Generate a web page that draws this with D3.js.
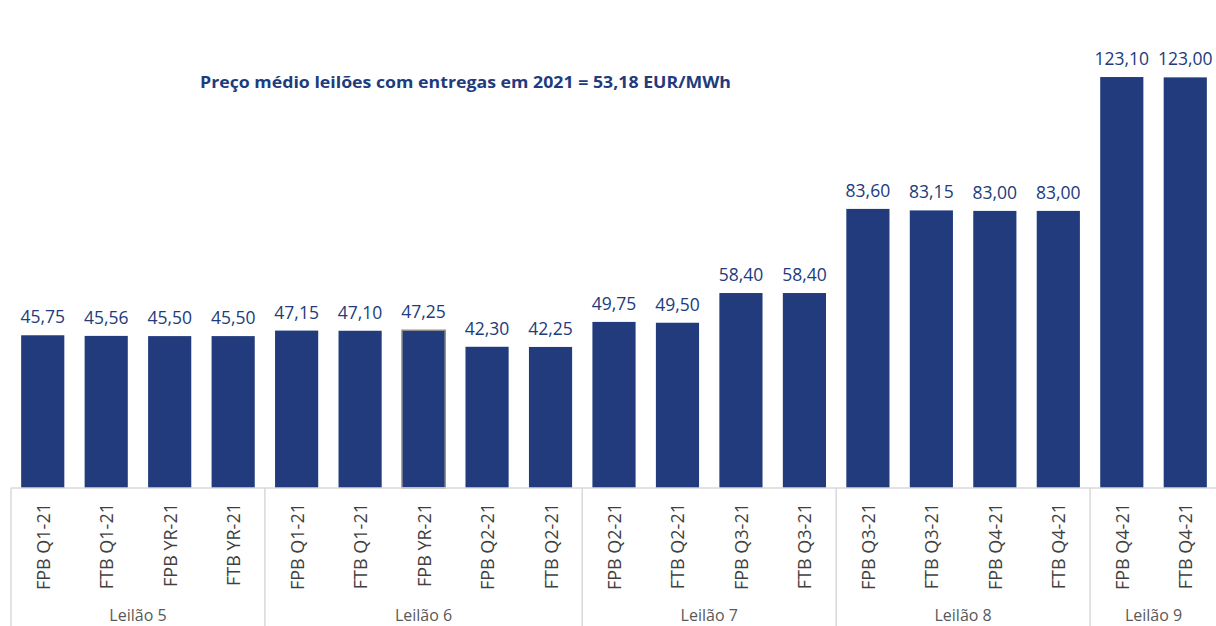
<!DOCTYPE html>
<html>
<head>
<meta charset="utf-8">
<script src="https://cdn.jsdelivr.net/npm/d3@7"></script>
<style>
  body { margin: 0; background: #fff; }
  text { font-family: "Open Sans", Lato, sans-serif; }
</style>
</head>
<body>
<div id="main"></div>
<script>
const ctx = {
    w: 1216,
    h: 626,
};

// chart data
const auctions = ["Leilão 5", "Leilão 6", "Leilão 7", "Leilão 8", "Leilão 9"];
const products = [
  ["FPB Q1-21", "FTB Q1-21", "FPB YR-21", "FTB YR-21"],
  ["FPB Q1-21", "FTB Q1-21", "FPB YR-21", "FPB Q2-21", "FTB Q2-21"],
  ["FPB Q2-21", "FTB Q2-21", "FPB Q3-21", "FTB Q3-21"],
  ["FPB Q3-21", "FTB Q3-21", "FPB Q4-21", "FTB Q4-21"],
  ["FPB Q4-21", "FTB Q4-21"]
];
const prices = [
  [45.75, 45.56, 45.50, 45.50],
  [47.15, 47.10, 47.25, 42.30, 42.25],
  [49.75, 49.50, 58.40, 58.40],
  [83.60, 83.15, 83.00, 83.00],
  [123.10, 123.00]
];
const title = "Preço médio leilões com entregas em 2021 = 53,18 EUR/MWh";

function createViz() {
    let svg = d3.select("#main").append("svg")
        .attr("width", ctx.w)
        .attr("height", ctx.h);

    // flatten into one row per bar
    let rows = [];
    auctions.forEach((a, gi) => {
        products[gi].forEach((p, i) => {
            rows.push({key: gi + "-" + i, group: gi, label: p, value: prices[gi][i]});
        });
    });

    const baseY = 488;
    let x = d3.scaleBand()
        .domain(rows.map(d => d.key))
        .range([11, 1217])
        .paddingInner(0.32).paddingOuter(0.16);
    let y = d3.scaleLinear().domain([0, 130]).range([baseY, 54]);

    let fmt = v => d3.format(".2f")(v).replace(".", ",");

    // bars
    svg.selectAll("rect.bar")
        .data(rows)
        .enter().append("rect")
        .attr("class", "bar")
        .attr("x", d => x(d.key))
        .attr("width", x.bandwidth())
        .attr("y", d => y(d.value))
        .attr("height", d => baseY - y(d.value))
        .attr("fill", "#213b7d")
        .attr("stroke", d => (d.group === 1 && d.label === "FPB YR-21") ? "#8c8c8c" : "none")
        .attr("stroke-width", 1.5);

    // value labels
    svg.selectAll("text.val")
        .data(rows)
        .enter().append("text")
        .attr("class", "val")
        .attr("x", d => x(d.key) + x.bandwidth() / 2)
        .attr("y", d => y(d.value) - 12)
        .attr("text-anchor", "middle")
        .attr("font-size", 17.5)
        .attr("fill", "#213b7d")
        .text(d => fmt(d.value));

    // axis line
    svg.append("line")
        .attr("x1", 11).attr("x2", ctx.w)
        .attr("y1", baseY).attr("y2", baseY)
        .attr("stroke", "#d9d9d9").attr("stroke-width", 1.5);

    // category labels, rotated
    svg.selectAll("text.cat")
        .data(rows)
        .enter().append("text")
        .attr("class", "cat")
        .attr("transform", d => `translate(${x(d.key) + x.bandwidth() / 2 + 7},503) rotate(-90)`)
        .attr("text-anchor", "end")
        .attr("font-size", 18)
        .attr("fill", "#404040")
        .text(d => d.label);

    // group separators and labels
    let step = x.step();
    let start = 11;
    auctions.forEach((a, gi) => {
        let n = products[gi].length;
        let end = start + n * step;
        svg.append("line")
            .attr("x1", start).attr("x2", start)
            .attr("y1", baseY).attr("y2", ctx.h)
            .attr("stroke", "#d9d9d9").attr("stroke-width", 1.5);
        svg.append("text")
            .attr("x", (start + end) / 2)
            .attr("y", 621)
            .attr("text-anchor", "middle")
            .attr("font-size", 16)
            .attr("fill", "#595959")
            .text(a);
        start = end;
    });

    // title note
    svg.append("text")
        .attr("x", 200)
        .attr("y", 88)
        .attr("font-size", 16)
        .attr("font-weight", "bold")
        .attr("fill", "#213b7d")
        .attr("textLength", 531)
        .attr("lengthAdjust", "spacingAndGlyphs")
        .text(title);
}

createViz();
</script>
</body>
</html>
